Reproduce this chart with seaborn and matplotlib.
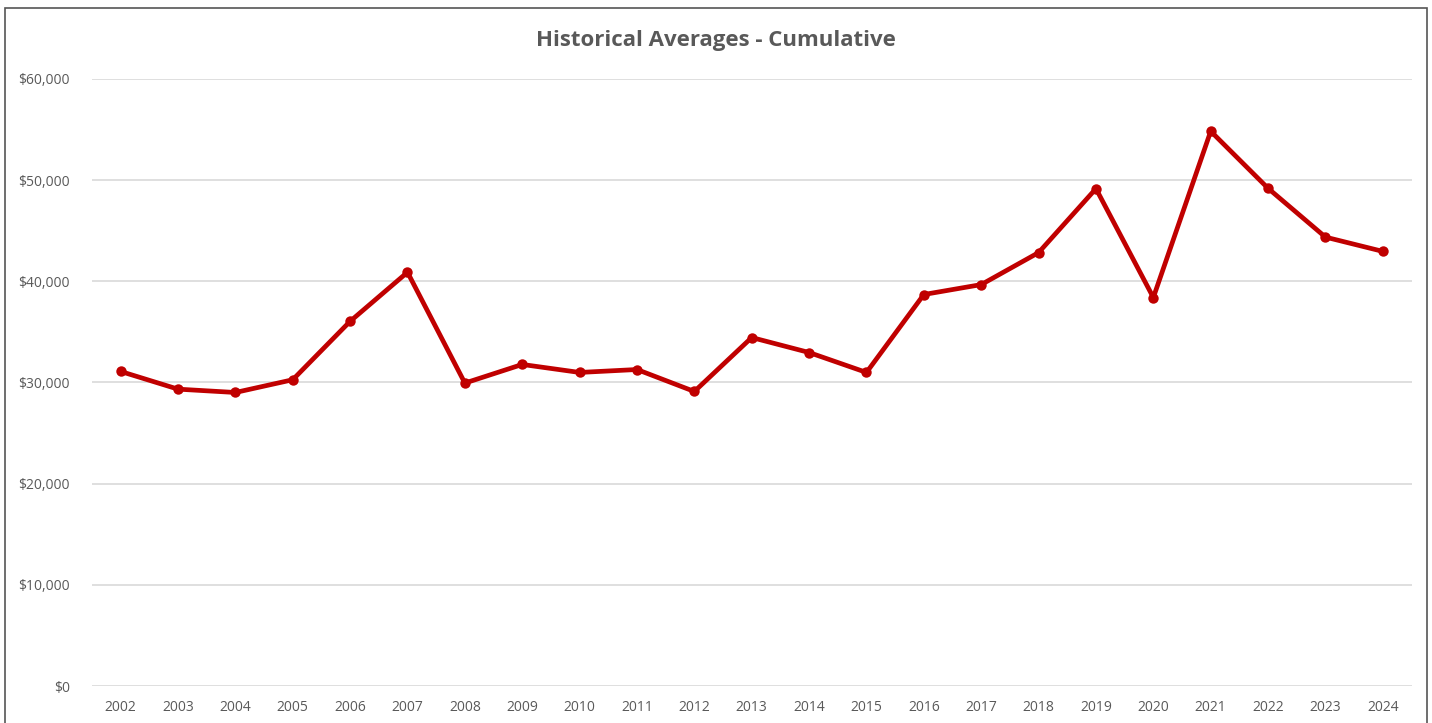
import matplotlib
matplotlib.use("Agg")
import matplotlib.pyplot as plt
import matplotlib.patches as mpatches
from matplotlib.ticker import FuncFormatter
import seaborn as sns
import pandas as pd

years = [2002, 2003, 2004, 2005, 2006, 2007, 2008, 2009, 2010, 2011, 2012, 2013,
         2014, 2015, 2016, 2017, 2018, 2019, 2020, 2021, 2022, 2023, 2024]
values = [31090, 29340, 29010, 30270, 36040, 40890, 29940, 31780, 30990, 31280, 29110, 34440,
          32960, 30990, 38690, 39670, 42830, 49150, 38390, 54820, 49180, 44360, 42950]
title = "Historical Averages - Cumulative"

df = pd.DataFrame({"year": years, "value": values})

sns.set_theme(style="white")
plt.rcParams['font.family'] = ['Open Sans', 'DejaVu Sans']

fig = plt.figure(figsize=(14.32, 7.23), dpi=100)
ax = fig.add_axes([0.0642, 0.051, 0.9215, 0.840])

sns.lineplot(data=df, x="year", y="value", ax=ax, color="#C00000", linewidth=3.4,
             marker="o", markersize=7.5, markeredgewidth=0, zorder=3)

ax.set_xlim(years[0] - 0.5, years[-1] + 0.5)
ax.set_ylim(0, 60000)
ax.set_yticks(range(0, 60001, 10000))
ax.set_xticks(years)
ax.set_xticklabels([str(y) for y in years])
ax.yaxis.set_major_formatter(FuncFormatter(lambda v, p: f"${v:,.0f}"))
ax.grid(axis="y", color="#D9D9D9", linewidth=1.2)
ax.grid(axis="x", visible=False)
for s in ax.spines.values():
    s.set_visible(False)
ax.tick_params(axis="both", length=0, labelsize=10, colors="#595959")
ax.tick_params(axis="y", pad=16)
ax.tick_params(axis="x", pad=10)
ax.set_xlabel("")
ax.set_ylabel("")

fig.text(0.5, 0.944, title, ha="center", va="center", fontsize=16, fontweight="bold",
         color="#595959")

fig.patches.append(mpatches.Rectangle((0.0035, -0.01), 0.993, 0.999, transform=fig.transFigure,
                                      fill=False, edgecolor="#555555", linewidth=1.2))

fig.savefig("out.png", dpi=100)
